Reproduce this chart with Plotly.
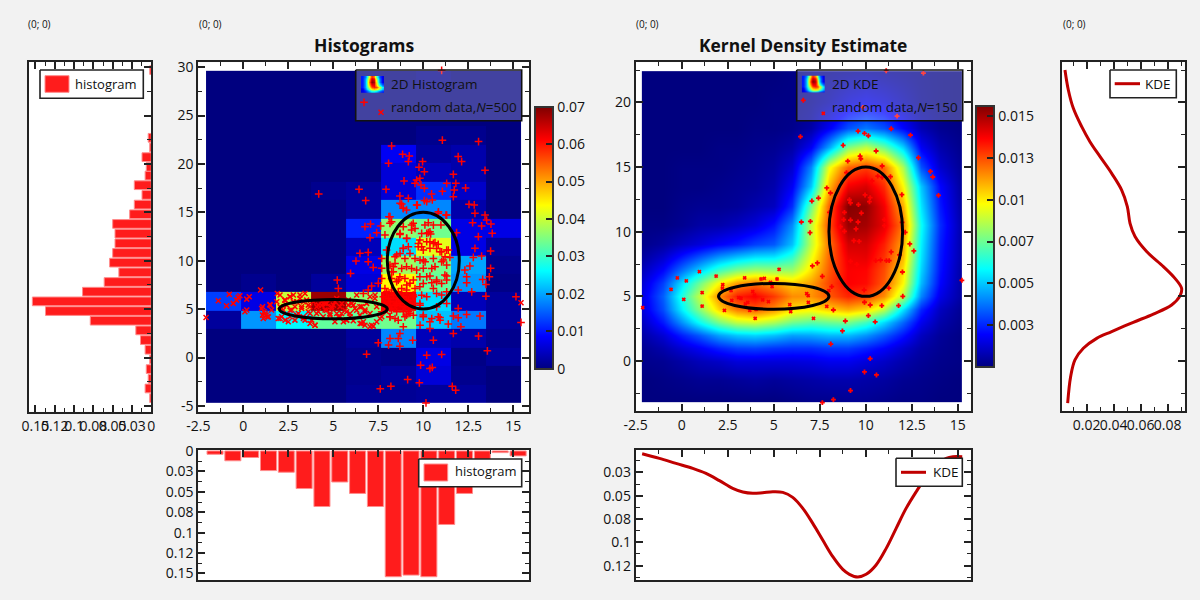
import plotly.graph_objects as go

# ---------- data ----------
hist_x_edges = [-2.07, -0.13, 1.82, 3.76, 5.70, 7.65, 9.59, 11.53, 13.48, 15.42]
hist_y_edges = [-4.69, -2.86, -0.90, 1.00, 2.93, 4.79, 6.76, 8.62, 10.55, 12.41, 14.31,
                16.28, 18.14, 20.07, 21.97, 23.90, 25.79, 27.72, 29.62]
hist_z = [
    [0, 0, 0, 0, .0015, .0015, .002, .002, 0],
    [0, 0, 0, 0, .001, .002, .006, .001, 0],
    [0, 0, 0, 0, .001, .0005, .007, .0005, .002],
    [0, 0, 0, 0, .002, .018, .004, .003, .001],
    [.002, .019, .026, .033, .033, .034, .022, .017, .002],
    [.013, .007, .040, .068, .036, .062, .024, .004, .002],
    [0, .001, 0, .002, .006, .044, .033, .019, .0005],
    [0, 0, 0, 0, .007, .037, .034, .020, .001],
    [0, 0, 0, 0, .004, .024, .042, .007, .002],
    [0, 0, 0, 0, .011, .036, .034, .007, .007],
    [0, 0, 0, 0, .002, .018, .018, .003, 0],
    [0, 0, 0, .001, .002, .006, .012, .005, 0],
    [0, 0, 0, 0, 0, .006, .004, .003, 0],
    [0, 0, 0, 0, 0, .008, .002, .003, 0],
    [0, 0, 0, 0, 0, 0, .001, .001, 0],
    [0, 0, 0, 0, 0, 0, 0, 0, 0],
    [0, 0, 0, 0, 0, 0, 0, 0, 0],
    [0, 0, 0, 0, 0, 0, .0008, 0, 0],
]

kde_x = [-2.15, -1, 0, 1, 2, 3, 4, 5, 6, 7, 8, 9, 10, 11, 12, 13, 14, 15.2]
kde_y = [-3.2, -1.5, 0, 1, 2, 3, 4, 5, 6, 7, 8, 9, 10.5, 12, 13.5, 15, 16.5, 18, 20, 22.4]
kde_z = [
    [0, 0, 0, 0, 0, 0, 0, 0, .0001, .0002, .0002, .0003, .0003, .0002, .0001, .0001, 0, 0],
    [0, .0001, .0002, .0003, .0003, .0004, .0005, .0004, .0005, .0006, .0007, .0007, .0006, .0005, .0003, .0002, .0001, 0],
    [.0002, .0003, .0006, .0009, .0011, .0014, .0014, .0014, .0014, .0015, .0017, .0017, .0014, .0011, .0007, .0004, .0002, .0001],
    [.0003, .0007, .0013, .0018, .0024, .0028, .0029, .0027, .0026, .0026, .0028, .0028, .0024, .0019, .0012, .0006, .0003, .0001],
    [.0006, .0013, .0024, .0033, .0044, .005, .0052, .0049, .0044, .0045, .0048, .0048, .0042, .0033, .0022, .001, .0004, .0001],
    [.001, .0023, .0042, .006, .0077, .0088, .0091, .0085, .0076, .0072, .0075, .0077, .0068, .0053, .0035, .0017, .0007, .0002],
    [.0014, .0031, .0057, .008, .0104, .0118, .0123, .0115, .0102, .0099, .0105, .011, .0104, .0088, .0055, .0025, .001, .0003],
    [.0015, .0034, .0063, .0089, .0115, .0132, .0137, .0128, .0115, .0114, .0123, .0131, .0127, .0115, .0086, .004, .0016, .0005],
    [.0013, .0029, .0054, .0076, .0098, .0113, .0119, .0112, .0105, .0112, .0126, .0137, .0135, .0123, .0098, .0048, .002, .0005],
    [.0009, .002, .0037, .0052, .0068, .0078, .0083, .0082, .0082, .0102, .0123, .0137, .0136, .0125, .0102, .0052, .0022, .0005],
    [.0005, .0012, .0023, .0033, .0043, .005, .0055, .0056, .0066, .0095, .0121, .0139, .014, .0129, .0108, .0055, .0023, .0006],
    [.0002, .0005, .001, .0014, .0019, .0023, .0029, .0033, .0049, .0088, .0119, .0143, .0143, .0132, .0111, .0057, .0024, .0006],
    [.0001, .0001, .0003, .0006, .0007, .001, .0014, .0022, .0041, .0088, .0125, .0152, .015, .014, .0118, .006, .0026, .0006],
    [0, 0, .0002, .0003, .0003, .0004, .0007, .001, .0026, .0075, .0122, .0155, .0153, .0138, .011, .0055, .0023, .0005],
    [0, 0, .0001, .0001, .0002, .0003, .0004, .0007, .0018, .005, .0108, .0138, .0142, .013, .0098, .005, .002, .0004],
    [0, 0, .0001, .0001, .0001, .0002, .0003, .0005, .0012, .004, .0095, .0122, .0127, .012, .0085, .0032, .0012, .0003],
    [0, 0, 0, 0, .0001, .0001, .0002, .0003, .0006, .0018, .0045, .0078, .0088, .0075, .0052, .0018, .0007, .0002],
    [0, 0, 0, 0, 0, 0, .0001, .0001, .0002, .0006, .0018, .0032, .0038, .0032, .002, .0008, .0003, .0001],
    [0, 0, 0, 0, 0, 0, 0, .0001, .0001, .0003, .0007, .0013, .0016, .0013, .0008, .0003, .0001, 0],
    [0, 0, 0, 0, 0, 0, 0, 0, .0001, .0002, .0003, .0004, .0005, .0004, .0003, .0002, .0001, 0],
]

# thumbnail shown in the two colour-map legends (0 to 1, bottom row first)
mini_z = [
    [.10, .15, .25, .35, .35, .30, .20, .15],
    [.10, .25, .45, .65, .70, .65, .50, .30],
    [.15, .30, .55, .80, .85, .80, .60, .35],
    [.15, .30, .65, .90, .90, .65, .35, .20],
    [.15, .30, .70, 1.0, .95, .60, .25, .10],
    [.15, .30, .65, .95, .90, .55, .25, .10],
    [.15, .25, .55, .85, .75, .45, .20, .10],
]
mini_x = [0, 1, 2, 3, 4, 5, 6, 7, 8]
mini_y = [0, 1, 2, 3, 4, 5, 6, 7]

hist_plus_x = [11.02,11.06,13.07,8.24,8.85,9.22,9.17,8.07,9.96,11.94,12.13,13.43,9.76,10.06,11.67,8.93,9.63,9.81,9.54,9.87,
    10.06,11.3,11.81,12.35,6.43,7.93,10.46,11.06,11.72,11.67,4.19,8.7,9.17,6.8,10.06,10.5,9.67,8.8,12.54,12.83,
    8.89,9.07,12.87,13.43,11.3,10.83,8.09,8.24,13.52,12.74,13.76,13.24,6.76,7.07,7.63,8.15,8.89,9.44,10.28,10.09,
    9.35,10.98,11.85,13.83,7.41,7.04,8.7,10.28,10.41,7.87,9.07,9.81,10.37,10.65,10.83,13.06,7.96,6.48,6.94,12.87,
    13.74,11.3,9.72,10.0,10.37,10.93,9.17,8.89,8.52,8.98,9.54,10.0,10.56,11.11,11.48,13.24,12.78,6.26,6.94,7.69,
    8.43,9.07,10.0,10.65,11.3,12.59,12.31,7.22,7.69,13.74,5.96,8.33,8.7,9.81,10.37,11.2,12.41,13.67,13.3,5.22,
    7.69,8.52,9.26,10.74,11.3,12.41,13.48,5.28,7.13,7.5,8.24,9.07,9.81,10.56,11.94,12.69,6.94,6.67,13.48,15.15,
    8.89,9.44,10.19,11.02,9.81,8.52,9.07,10.74,11.3,11.94,8.15,9.26,9.07,10.0,10.83,11.67,11.94,12.41,13.15,8.15,
    8.61,10.37,10.93,15.43,8.89,10.37,11.39,12.09,11.67,13.07,8.7,8.15,8.61,9.41,10.56,7.5,8.07,8.7,13.56,6.85,
    10.19,11.02,9.85,10.37,10.5,9.13,9.78,11.61,11.8,7.61,8.2,10.15,
    8.71,8.89,9.63,10.19,10.84,11.26,8.15,9.35,9.54,10.56,10.19,10.37,9.91,8.71,9.08,9.73,9.91,10.19,10.56,10.74,
    11.02,11.39,8.89,8.71,9.26,8.43,9.82,10.1,11.02,11.21,8.15,8.34,8.8,9.35,9.63,10.47,8.24,8.24,8.61,8.98,
    9.45,10.19,10.74,11.3,10.0,10.47,11.02,9.08,8.8,9.54,8.61,9.91,10.74,11.3,9.82,7.87,7.97,
    7.78,8.06,8.34,8.61,8.89,9.17,9.45,7.87,8.15,8.43,8.71,8.98,9.26,9.54,7.97,8.24,8.52,8.89,9.17,7.69,
    8.15,8.43,8.98,9.45,10.0,10.47,10.93,9.82]
hist_plus_y = [29.66,22.45,22.31,21.86,21.0,20.83,20.24,20.07,20.24,20.76,20.24,19.34,19.66,19.2,18.93,18.24,18.34,18.52,18.0,17.83,
    17.48,18.0,18.0,17.52,17.38,17.38,16.9,17.17,17.31,16.62,16.9,16.69,16.45,16.21,16.21,16.28,15.76,15.86,15.83,15.76,
    15.41,15.24,14.9,14.72,14.72,14.9,14.55,14.03,14.2,13.93,13.79,13.59,13.52,13.79,13.59,13.86,13.52,13.86,13.93,13.69,
    13.17,13.69,12.9,12.83,12.9,12.38,12.72,12.9,12.76,12.66,12.31,12.14,11.97,11.86,11.69,12.48,11.1,10.76,10.86,11.28,
    11.0,11.1,11.45,11.1,11.28,10.93,11.45,11.28,10.59,10.24,10.24,10.07,10.24,10.07,10.34,10.48,10.34,9.97,9.9,10.24,
    9.72,9.38,9.21,9.38,9.55,9.45,9.03,9.31,9.21,9.21,8.69,8.86,8.34,8.34,8.41,8.52,8.34,8.34,8.07,8.0,
    8.17,7.83,7.66,7.83,8.0,7.72,7.55,7.14,7.38,7.66,6.97,6.97,7.31,7.14,6.97,6.79,6.97,6.62,6.34,6.28,
    6.28,6.45,6.28,6.45,5.59,5.59,5.76,5.24,5.59,5.07,5.07,4.55,4.38,4.38,4.21,4.28,4.1,4.45,4.28,4.21,
    3.86,3.69,3.86,3.62,3.17,3.0,3.45,3.17,2.48,2.21,2.48,1.97,1.97,1.79,1.79,1.52,1.28,1.17,0.69,0.34,
    0.24,0.31,-0.79,-1.14,-1.03,-2.28,-2.62,-2.97,-3.38,-3.24,-2.97,-4.69,
    15.93,15.41,15.75,16.1,15.06,14.72,14.55,13.68,13.34,13.68,12.82,12.99,12.82,12.82,12.3,11.79,11.44,11.96,11.79,11.27,
    10.92,11.1,11.27,10.75,10.75,10.41,10.06,9.89,9.89,10.41,9.55,9.37,9.2,9.2,9.03,9.2,8.86,8.17,8.0,8.17,
    8.0,8.34,8.0,8.41,7.65,7.72,7.65,7.48,7.13,7.13,6.79,6.44,6.62,6.79,5.41,7.13,6.79,
    6.27,6.1,6.44,6.1,6.27,5.92,6.27,5.58,5.75,5.41,5.58,5.24,5.41,5.58,5.06,4.89,4.72,4.72,4.72,4.72,
    4.2,4.03,4.2,4.37,4.2,4.03,4.13,3.34]
hist_cross_x = [-2.07,-1.39,-0.93,-0.78,-0.56,-0.28,-0.19,-0.37,0.19,0.33,0.09,0.19,0.96,1.07,1.15,1.26,1.07,1.48,1.57,1.33,
    1.89,2.04,2.13,2.31,2.41,2.59,2.78,2.87,2.69,2.96,3.24,3.43,3.52,3.61,3.33,3.8,3.98,4.17,4.35,4.54,
    4.81,5.0,5.19,5.37,5.56,5.74,6.02,6.11,6.3,6.48,6.57,6.76,7.13,7.22,7.41,7.69,7.96,15.43,4.44,3.7,
    2.22,2.59,3.15,3.06,3.43,4.07,4.63,4.91,5.28,5.46,5.83,5.93,6.2,6.48,6.85,7.04,7.31,6.67,5.74,5.09,2.5,1.94,
    1.02,1.21,1.39,1.11,1.49,2.04,2.32,2.6,2.78,3.15,2.04,2.32,2.97,3.34,3.71,3.99,4.17,3.89,4.36,4.63,
    4.91,5.19,5.47,5.74,5.93,6.11,6.3,6.58,6.76,7.04,7.32,7.41,6.49,6.76,7.04,7.6,5.84,2.6,2.87,3.24,
    3.61,4.08,4.54,5.1,4.82,5.37,5.65,3.34,3.71,2.13,1.86]
hist_cross_y = [4.14,5.86,5.34,6.52,5.59,6.21,6.38,5.93,6.03,6.28,4.72,4.9,6.97,5.24,4.72,4.38,4.38,5.48,4.9,4.21,
    6.62,5.24,4.21,5.93,5.41,6.28,6.45,3.86,4.9,5.76,5.24,6.62,5.93,4.72,4.21,3.86,3.34,5.41,5.76,4.9,
    4.55,5.41,6.1,5.24,3.69,4.72,5.59,3.79,6.45,5.24,3.52,4.9,3.34,3.24,5.24,4.21,4.72,5.66,4.21,5.24,
    4.9,4.21,6.1,4.55,3.86,4.55,5.59,5.07,4.21,4.55,5.41,4.21,5.07,4.38,5.59,4.55,6.1,3.69,3.86,3.69,3.69,4.03,
    5.07,4.55,4.2,4.03,5.41,6.45,5.93,6.27,5.76,6.45,4.03,3.86,4.38,4.03,3.51,3.34,4.72,5.76,5.41,4.89,
    5.24,4.55,5.58,3.86,4.55,5.41,4.89,5.24,4.72,6.27,6.45,3.69,3.52,3.34,3.17,4.03,5.93,4.89,5.24,5.07,
    5.41,5.24,5.58,5.76,4.38,4.2,4.89,5.76,4.55,5.07,5.76]

kde_plus_x = [11.11,13.13,9.84,11.7,11.38,9.58,9.93,10.14,12.43,6.45,8.77,10.56,12.86,9.69,9.73,9.02,10.89,8.95,13.51,13.64,
    10.65,10.89,11.34,10.34,7.88,8.08,11.96,13.95,9.96,10.24,10.2,7.43,7.07,9.11,9.17,9.6,8.84,9.76,8.03,11.01,
    9.17,8.8,9.58,6.99,6.5,11.97,8.62,11.01,8.84,9.47,12.14,6.97,9.35,9.64,12.39,12.61,11.38,11.83,10.54,10.8,
    11.12,11.27,9.17,9.51,7.37,7.1,11.99,15.22,7.64,8.15,9.91,12.01,11.25,9.93,10.24,10.87,11.78,8.24,10.14,8.89,
    10.51,8.73,8.1,10.24,9.93,10.58,9.17,8.24,7.64]
kde_plus_y = [22.45,22.27,19.61,18.94,17.96,17.78,17.6,17.42,17.47,17.35,16.68,16.24,15.72,15.85,15.64,15.46,15.08,14.56,14.66,14.23,
    14.3,14.2,14.25,13.92,13.38,12.99,12.86,12.81,12.84,12.63,12.32,12.6,12.37,12.47,12.22,12.09,11.49,11.44,11.49,10.93,
    10.9,10.93,10.75,10.8,10.75,10.72,10.39,10.46,10.03,10.21,9.95,9.92,9.3,9.25,9.05,8.51,8.43,8.2,7.76,7.81,
    7.76,7.76,7.71,7.47,7.58,7.35,6.88,6.24,6.55,5.75,5.49,5.0,5.64,4.54,4.33,4.28,4.28,3.94,3.51,3.09,
    3.02,2.32,1.31,0.18,-0.85,-1.08,-2.29,-2.99,-3.22]
kde_cross_x = [-2.12,-0.58,-0.24,0.25,0.11,0.96,1.11,1.11,1.87,2.23,2.21,2.32,2.72,2.68,3.1,3.22,3.42,3.46,3.59,3.7,
    3.99,4.04,3.86,3.95,4.31,4.49,4.4,4.71,4.82,4.91,5.18,5.29,5.87,5.92,6.79,6.87,6.88,7.16,7.88,7.99]
kde_cross_y = [4.12,5.54,6.42,6.19,4.77,6.91,5.28,4.25,6.57,5.9,5.64,3.92,4.69,5.44,4.9,4.85,6.42,4.41,4.54,3.92,
    3.3,3.99,5.36,5.1,6.34,6.39,4.72,4.59,6.08,5.75,6.34,7.09,4.36,3.81,5.21,5.05,4.54,3.3,4.23,5.44]

# ellipses: centre x, centre y, half-width, half-height
ellipse_cx = [5, 10]
ellipse_cy = [5, 10]
ellipse_rx = [3, 2]
ellipse_ry = [1, 5]

bottom_hist_x = [-1.57,-0.58,0.41,1.40,2.39,3.38,4.37,5.36,6.35,7.34,8.33,9.32,10.31,11.30,12.29,13.28,14.27,15.27]
bottom_hist_v = [.004,.012,.008,.024,.026,.046,.068,.038,.052,.068,.154,.152,.154,.09,.052,.03,.002,.006]

left_hist_y = [-4.2,-3.2,-2.2,-1.2,-0.2,0.8,1.8,2.8,3.8,4.8,5.8,6.8,7.8,8.8,9.8,10.8,11.8,12.8,13.8,14.8,15.8,16.8,
               17.8,18.8,19.7,20.7,21.7,22.7,29.7]
left_hist_v = [.002,.008,.004,.0065,.002,.008,.014,.02,.079,.137,.154,.089,.061,.042,.054,.05,.047,.047,.05,.028,.022,.012,
               .022,.008,.0065,.012,.002,.004,.002]

bottom_kde_x = [-2.15,-1.21,-0.31,0.6,1.32,2.05,2.77,3.32,3.86,4.4,4.95,5.49,6.03,6.58,7.12,7.66,8.21,8.75,9.11,9.57,
                10.02,10.56,11.11,11.65,12.19,12.74,13.28,13.82,14.37,14.73,15.24]
bottom_kde_v = [.005,.01,.0154,.0207,.0261,.0339,.0422,.0461,.0475,.0468,.0457,.0464,.0518,.0636,.0797,.0975,.1154,.129,.1343,.1372,
                .1343,.1243,.1065,.085,.0636,.0457,.0297,.0171,.01,.0082,.0082]
right_kde_v = [.0039,.0064,.0101,.0163,.0224,.0299,.0385,.0459,.0501,.0521,.0558,.0644,.0768,.0854,.0903,.0891,.0829,.0694,.0545,.0385,
               .0274,.0175,.0113,.0081,.0059]
right_kde_y = [22.51,20.96,19.54,18.12,16.96,15.8,14.51,13.22,11.94,10.65,9.62,8.46,7.3,6.39,5.62,5.03,4.33,3.63,2.99,2.27,
               1.75,.98,.08,-1.21,-3.27]

main_x_ticks = [-2.5, 0, 2.5, 5, 7.5, 10, 12.5, 15]
main_x_text = ["-2.5", "0", "2.5", "5", "7.5", "10", "12.5", "15"]
main_x_minor = [-1.25, 1.25, 3.75, 6.25, 8.75, 11.25, 13.75]
hist_y_ticks = [-5, 0, 5, 10, 15, 20, 25, 30]
hist_y_minor = [-2.5, 2.5, 7.5, 12.5, 17.5, 22.5, 27.5]
kde_y_ticks = [0, 5, 10, 15, 20]
kde_y_minor = [-2.5, 2.5, 7.5, 12.5, 17.5, 22.5]
hist_bar_ticks = [0, .025, .05, .075, .1, .125, .15]
hist_bar_text = ["0", "0.03", "0.05", "0.08", "0.1", "0.12", "0.15"]
hist_bar_minor = [.0125, .0375, .0625, .0875, .1125, .1375]
kde_v_ticks = [.025, .05, .075, .1, .125]
kde_v_text = ["0.03", "0.05", "0.08", "0.1", "0.12"]
kde_v_minor = [.0125, .0375, .0625, .0875, .1125, .1375]
right_x_ticks = [.02, .04, .06, .08]
right_x_text = ["0.02", "0.04", "0.06", "0.08"]
right_x_minor = [.01, .03, .05, .07, .09]
cb1_ticks = [0, .01, .02, .03, .04, .05, .06, .07]
cb1_text = ["0", "0.01", "0.02", "0.03", "0.04", "0.05", "0.06", "0.07"]
cb2_ticks = [.0025, .005, .0075, .01, .0125, .015]
cb2_text = ["0.003", "0.005", "0.007", "0.01", "0.013", "0.015"]

# ---------- styling ----------
W, H = 1200, 600
FONT = "Open Sans"
INK = "#111111"
LINE = "#222222"
RED = "#ff1c1c"
KDE_RED = "#c00000"
JET = [[0, "#00007f"], [.125, "#0000ff"], [.375, "#00ffff"], [.625, "#ffff00"], [.875, "#ff0000"], [1, "#7f0000"]]


def xdom(a, b):
    return [a / W, b / W]


def ydom(top, bottom):
    return [1 - bottom / H, 1 - top / H]


def axis(dom, rng, ticks, text=None, minor=None, mirror="allticks", labels=True, side=None):
    d = dict(domain=dom, range=rng, tickmode="array", tickvals=ticks, ticktext=text if text else [str(t) for t in ticks],
             ticks="inside", ticklen=7, tickwidth=1.6, tickcolor=LINE, showline=True, linewidth=2, linecolor=LINE,
             mirror=mirror, showgrid=False, zeroline=False, showticklabels=labels, tickangle=0,
             tickfont=dict(family=FONT, size=14, color=INK))
    if minor:
        d["minor"] = dict(tickmode="array", tickvals=minor, ticks="inside", ticklen=4, tickwidth=1.4, tickcolor=LINE, showgrid=False)
    if side:
        d["side"] = side
    return d


fig = go.Figure()
layout = dict(
    width=W, height=H, margin=dict(l=0, r=0, t=0, b=0, autoexpand=False),
    paper_bgcolor="#f2f2f2", plot_bgcolor="rgba(0,0,0,0)", showlegend=False,
    font=dict(family=FONT, size=14, color=INK),
)

hist_x_rng = [-2.5, 15.89]
hist_y_rng = [-5.6, 30.5]
kde_x_rng = [-2.5, 15.7]
kde_y_rng = [-3.87, 23.1]

# main panels
layout["xaxis"] = dict(axis(xdom(198.3, 529.3), hist_x_rng, main_x_ticks, main_x_text, main_x_minor), anchor="y")
layout["yaxis"] = dict(axis(ydom(62.3, 411.7), hist_y_rng, hist_y_ticks, None, hist_y_minor), anchor="x")
layout["xaxis2"] = dict(axis(xdom(635.7, 970.7), kde_x_rng, main_x_ticks, main_x_text, main_x_minor), anchor="y2")
layout["yaxis2"] = dict(axis(ydom(62.3, 411), kde_y_rng, kde_y_ticks, None, kde_y_minor), anchor="x2")
# left histogram
layout["xaxis3"] = dict(axis(xdom(28.5, 151.3), [.159, 0], hist_bar_ticks, hist_bar_text, hist_bar_minor), anchor="y3")
layout["yaxis3"] = dict(axis(ydom(62.3, 411.7), hist_y_rng, hist_y_ticks, None, hist_y_minor, mirror=True, labels=False, side="right"), anchor="x3")
# right KDE
layout["xaxis4"] = dict(axis(xdom(1062, 1184.7), [.0017, .0926], right_x_ticks, right_x_text, right_x_minor), anchor="y4")
layout["yaxis4"] = dict(axis(ydom(62.3, 411), kde_y_rng, kde_y_ticks, None, kde_y_minor, mirror=True, labels=False, side="right"), anchor="x4")
# bottom histogram
layout["xaxis5"] = dict(axis(xdom(198.3, 529.3), hist_x_rng, main_x_ticks, main_x_text, main_x_minor, mirror=True, labels=False, side="top"), anchor="y5")
layout["yaxis5"] = dict(axis(ydom(450, 580), [.158, -.0012], hist_bar_ticks, hist_bar_text, hist_bar_minor), anchor="x5")
# bottom KDE
layout["xaxis6"] = dict(axis(xdom(635.7, 970.7), kde_x_rng, main_x_ticks, main_x_text, main_x_minor, mirror=True, labels=False, side="top"), anchor="y6")
layout["yaxis6"] = dict(axis(ydom(450, 580), [.1404, .001], kde_v_ticks, kde_v_text, kde_v_minor), anchor="x6")
# full-canvas overlay in pixels, for the legend boxes
layout["xaxis7"] = dict(domain=[0, 1], range=[0, W], visible=False, anchor="y7")
layout["yaxis7"] = dict(domain=[0, 1], range=[H, 0], visible=False, anchor="x7")
# legend thumbnails
layout["xaxis8"] = dict(domain=xdom(361, 384), range=[0, 8], visible=False, anchor="y8")
layout["yaxis8"] = dict(domain=ydom(76, 92.7), range=[0, 7], visible=False, anchor="x8")
layout["xaxis9"] = dict(domain=xdom(801.7, 825), range=[0, 8], visible=False, anchor="y9")
layout["yaxis9"] = dict(domain=ydom(75.5, 92.7), range=[0, 7], visible=False, anchor="x9")

# a hair-thin repeat of the outer rows and columns keeps the smoothed image inside its own extent
kde_x_plot = [kde_x[0] - .01] + kde_x + [kde_x[-1] + .01]
kde_y_plot = [kde_y[0] - .01] + kde_y + [kde_y[-1] + .01]
kde_z_rows = [[r[0]] + r + [r[-1]] for r in kde_z]
kde_z_plot = [kde_z_rows[0]] + kde_z_rows + [kde_z_rows[-1]]

# heatmaps
fig.add_trace(go.Heatmap(
    x=hist_x_edges, y=hist_y_edges, z=hist_z, zmin=0, zmax=.07, colorscale=JET, xaxis="x", yaxis="y", hoverinfo="skip",
    colorbar=dict(x=535 / W, xanchor="left", y=1 - 106.7 / H, yanchor="top", lenmode="pixels", len=261.6, thicknessmode="pixels",
                  thickness=18, xpad=0, ypad=0, outlinewidth=2, outlinecolor="#333333", ticks="inside", ticklen=8, tickwidth=1.5,
                  tickcolor="#222222", tickmode="array", tickvals=cb1_ticks, ticktext=cb1_text, tickfont=dict(family=FONT, size=14, color=INK)),
))
fig.add_trace(go.Heatmap(
    x=kde_x_plot, y=kde_y_plot, z=kde_z_plot, zmin=0, zmax=.0156, colorscale=JET, zsmooth="best", xaxis="x2", yaxis="y2", hoverinfo="skip",
    colorbar=dict(x=976 / W, xanchor="left", y=1 - 106 / H, yanchor="top", lenmode="pixels", len=260.7, thicknessmode="pixels",
                  thickness=18, xpad=0, ypad=0, outlinewidth=2, outlinecolor="#333333", ticks="inside", ticklen=8, tickwidth=1.5,
                  tickcolor="#222222", tickmode="array", tickvals=cb2_ticks, ticktext=cb2_text, tickfont=dict(family=FONT, size=14, color=INK)),
))

# scatter points
HIST_PLUS = 5.5
HIST_CROSS = 5
KDE_PLUS = 3.5
KDE_CROSS = 3


def pts(x, y, sym, size, width, ax):
    fig.add_trace(go.Scatter(x=x, y=y, mode="markers", xaxis="x" + ax, yaxis="y" + ax, hoverinfo="skip",
                             marker=dict(symbol=sym, size=size, color="#ff0000", line=dict(color="#ff0000", width=width))))


pts(hist_plus_x, hist_plus_y, "cross-thin", HIST_PLUS, 1.5, "")
pts(hist_cross_x, hist_cross_y, "x-thin", HIST_CROSS, 1.5, "")
pts(kde_plus_x, kde_plus_y, "cross-thin", KDE_PLUS, 1.8, "2")
pts(kde_cross_x, kde_cross_y, "x-thin", KDE_CROSS, 1.8, "2")

# side histograms and KDE curves
bar_line = dict(color="#ff8c8c", width=1)
fig.add_trace(go.Bar(x=left_hist_v, y=left_hist_y, orientation="h", width=.9, marker=dict(color=RED, line=bar_line), xaxis="x3", yaxis="y3", hoverinfo="skip"))
fig.add_trace(go.Bar(x=bottom_hist_x, y=bottom_hist_v, width=.89, marker=dict(color=RED, line=bar_line), xaxis="x5", yaxis="y5", hoverinfo="skip"))
fig.add_trace(go.Scatter(x=right_kde_v, y=right_kde_y, mode="lines", line=dict(color=KDE_RED, width=3, shape="spline"), xaxis="x4", yaxis="y4", hoverinfo="skip"))
fig.add_trace(go.Scatter(x=bottom_kde_x, y=bottom_kde_v, mode="lines", line=dict(color=KDE_RED, width=3, shape="spline"), xaxis="x6", yaxis="y6", hoverinfo="skip"))


def box(x0, x1, y0, y1, fill, line=LINE, width=1.6):
    fig.add_trace(go.Scatter(x=[x0, x1, x1, x0, x0], y=[y0, y0, y1, y1, y0], mode="lines", fill="toself", fillcolor=fill,
                             line=dict(color=line, width=width), xaxis="x7", yaxis="y7", hoverinfo="skip"))


def key_line(x0, x1, y):
    fig.add_trace(go.Scatter(x=[x0, x1], y=[y, y], mode="lines", line=dict(color=KDE_RED, width=3), xaxis="x7", yaxis="y7", hoverinfo="skip"))


# legends
box(355.7, 521.7, 70, 120.7, "rgba(255,255,255,0.26)", "#111111", 1.6)
box(796.7, 962.7, 70, 120.7, "rgba(255,255,255,0.26)", "#111111", 1.6)
box(40, 143.3, 70, 98.3, "white")
box(45, 69, 75.7, 92.3, RED, "#ff8c8c", 1)
box(418.7, 521.7, 459, 486.7, "white")
box(424, 447.7, 464, 481, RED, "#ff8c8c", 1)
box(896, 962.3, 458.3, 486.3, "white")
key_line(901, 926, 472.3)
box(1110, 1176.3, 70, 97.7, "white")
key_line(1114.7, 1140, 83.7)


def key_mark(x, y, sym, size, width):
    fig.add_trace(go.Scatter(x=[x], y=[y], mode="markers", xaxis="x7", yaxis="y7", hoverinfo="skip",
                             marker=dict(symbol=sym, size=size, color="#ff0000", line=dict(color="#ff0000", width=width))))


key_mark(364, 102.3, "cross-thin", HIST_PLUS, 1.5)
key_mark(381, 112.3, "x-thin", HIST_CROSS, 1.5)
key_mark(803.3, 100.3, "cross-thin", KDE_PLUS, 1.8)
key_mark(823.3, 113.3, "x-thin", KDE_CROSS, 1.8)

fig.add_trace(go.Heatmap(x=mini_x, y=mini_y, z=mini_z, zmin=0, zmax=1, colorscale=JET, zsmooth="best", showscale=False, xaxis="x8", yaxis="y8", hoverinfo="skip"))
fig.add_trace(go.Heatmap(x=mini_x, y=mini_y, z=mini_z, zmin=0, zmax=1, colorscale=JET, zsmooth="best", showscale=False, xaxis="x9", yaxis="y9", hoverinfo="skip"))

# ellipses, in data coordinates of each main panel
shapes = []
for xr, yr in (("x", "y"), ("x2", "y2")):
    for cx, cy, rx, ry in zip(ellipse_cx, ellipse_cy, ellipse_rx, ellipse_ry):
        shapes.append(dict(type="circle", xref=xr, yref=yr, x0=cx - rx, x1=cx + rx, y0=cy - ry, y1=cy + ry,
                           line=dict(color="#000000", width=3), fillcolor="rgba(0,0,0,0)", layer="above"))
# white panel backgrounds
for x0, x1, y0, y1 in ((198.3, 529.3, 62.3, 411.7), (635.7, 970.7, 62.3, 411), (28.5, 151.3, 62.3, 411.7),
                       (1062, 1184.7, 62.3, 411), (198.3, 529.3, 450, 580), (635.7, 970.7, 450, 580)):
    shapes.append(dict(type="rect", xref="paper", yref="paper", x0=x0 / W, x1=x1 / W, y0=1 - y1 / H, y1=1 - y0 / H,
                       fillcolor="white", line=dict(width=0), layer="below"))
layout["shapes"] = shapes


def label(x, y, text, size=13.5, anchor="left", bold=False):
    return dict(xref="paper", yref="paper", x=x / W, y=1 - y / H, text=f"<b>{text}</b>" if bold else text, showarrow=False,
                xanchor=anchor, yanchor="middle", align=anchor,
                font=dict(family=FONT, size=size, color=INK))


layout["annotations"] = [
    label(363.5, 45, "Histograms", 17.5, "center", True),
    label(803, 45, "Kernel Density Estimate", 17.4, "center", True),
    label(26, 24, "(0; 0)", 10),
    label(197, 24, "(0; 0)", 10),
    label(634, 24, "(0; 0)", 10),
    label(1061, 24, "(0; 0)", 10),
    label(389, 84, "2D Histogram"),
    label(389, 106.7, "random data,<i>N</i>=500"),
    label(830.3, 84.3, "2D KDE"),
    label(830.3, 106.7, "random data,<i>N</i>=150"),
    label(73, 84, "histogram", 13),
    label(452.7, 471.3, "histogram", 13),
    label(930.7, 472.3, "KDE"),
    label(1143.3, 83.7, "KDE"),
]
fig.update_layout(**layout)
fig.write_html("out.html", post_script="document.body.style.margin='0';", config=dict(displayModeBar=False))
